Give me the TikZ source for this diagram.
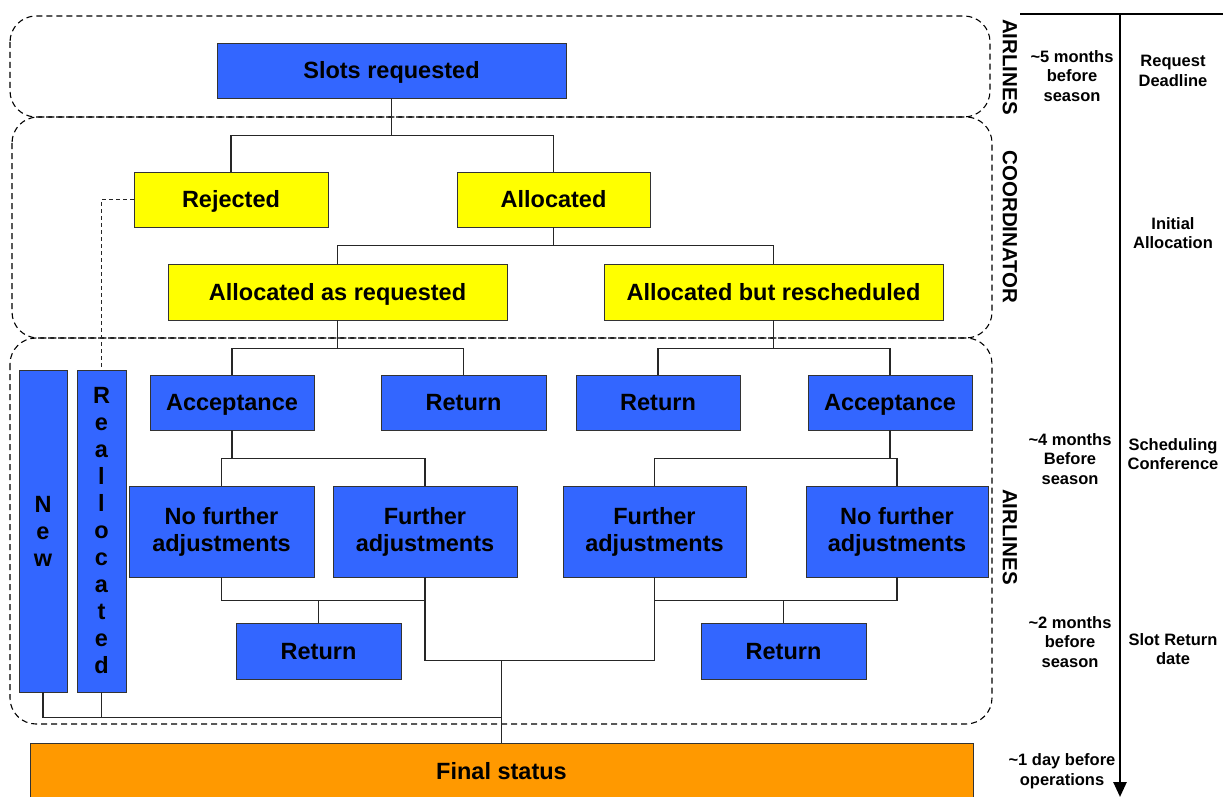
\documentclass[tikz,border=0pt]{standalone}
\usepackage{fontspec}
\setmainfont{Liberation Sans}
\usetikzlibrary{calc,arrows.meta}
\definecolor{bbox}{HTML}{3366FF}
\definecolor{ybox}{HTML}{FFFF00}
\definecolor{obox}{HTML}{FF9900}
\definecolor{edge}{HTML}{333333}
\begin{document}
\begin{tikzpicture}[x=1pt,y=-1pt,
  box/.style={draw=edge,line width=0.9pt,inner sep=0pt,align=center,font=\fontsize{23.5}{27}\selectfont\bfseries},
  bluebox/.style={box,fill=bbox},
  yelbox/.style={box,fill=ybox},
  oneline/.style={text height=17pt,text depth=0.5pt},
  region/.style={draw=black,line width=1.1pt,dash pattern=on 6pt off 4pt,rounded corners=26pt},
  conn/.style={draw=black!85,line width=1.3pt},
  tl/.style={align=center,font=\fontsize{16.5}{19.5}\selectfont\bfseries},
  side/.style={rotate=-90,font=\fontsize{20.5}{22}\selectfont\bfseries}]
\useasboundingbox (0,0) rectangle (1223,797);
% regions
\draw[region] (10,16) rectangle (990,117);
\draw[region] (12,117) rectangle (992,338);
\draw[region] (10,338) rectangle (992,724);
% nodes
\node[bluebox,oneline,minimum width=349pt,minimum height=55pt] (slots) at (391.5,70.5) {Slots requested};
\node[yelbox,oneline,minimum width=194pt,minimum height=55pt] (rej) at (231,199.5) {Rejected};
\node[yelbox,oneline,minimum width=193pt,minimum height=55pt] (alloc) at (553.5,199.5) {Allocated};
\node[yelbox,oneline,minimum width=339pt,minimum height=56pt] (aar) at (337.5,292) {Allocated as requested};
\node[yelbox,oneline,minimum width=339pt,minimum height=56pt] (abr) at (773.5,292) {Allocated but rescheduled};
\node[bluebox,oneline,minimum width=164pt,minimum height=55pt] (accL) at (232,402.5) {Acceptance};
\node[bluebox,oneline,minimum width=165pt,minimum height=55pt] (retA) at (463.5,402.5) {Return};
\node[bluebox,oneline,minimum width=164pt,minimum height=55pt] (retB) at (658,402.5) {Return};
\node[bluebox,oneline,minimum width=164pt,minimum height=55pt] (accR) at (890,402.5) {Acceptance};
\node[bluebox,minimum width=185pt,minimum height=91pt] (nfaL) at (221.5,531.5) {No further\\adjustments};
\node[bluebox,minimum width=184pt,minimum height=91pt] (faL) at (425,531.5) {Further\\adjustments};
\node[bluebox,minimum width=183pt,minimum height=91pt] (faR) at (654.5,531.5) {Further\\adjustments};
\node[bluebox,minimum width=182pt,minimum height=91pt] (nfaR) at (897,531.5) {No further\\adjustments};
\node[bluebox,oneline,minimum width=165pt,minimum height=56pt] (retC) at (318.5,651) {Return};
\node[bluebox,oneline,minimum width=165pt,minimum height=56pt] (retD) at (783.5,651) {Return};
\node[bluebox,minimum width=48pt,minimum height=322pt] (new) at (43,531) {N\\e\\w};
\node[bluebox,minimum width=49pt,minimum height=322pt] (realloc) at (101.5,531) {R\\e\\a\\l\\l\\o\\c\\a\\t\\e\\d};
\node[box,oneline,fill=obox,minimum width=943pt,minimum height=57pt] (final) at (501.5,771.5) {Final status};
% connectors
\draw[conn] (slots.south) -- ++(0,37) coordinate (j1) -| (rej.north);
\draw[conn] (j1) -| (alloc.north);
\draw[conn] (alloc.south) -- ++(0,18) coordinate (j2) -| (aar.north);
\draw[conn] (j2) -| (abr.north);
\draw[conn] (aar.south) -- ++(0,28) coordinate (j3) -| (accL.north);
\draw[conn] (j3) -| (retA.north);
\draw[conn] (abr.south) -- ++(0,28) coordinate (j4) -| (retB.north);
\draw[conn] (j4) -| (accR.north);
\draw[conn] (accL.south) -- ++(0,28) coordinate (j5) -| (nfaL.north);
\draw[conn] (j5) -| (faL.north);
\draw[conn] (accR.south) -- ++(0,28) coordinate (j6) -| (faR.north);
\draw[conn] (j6) -| (nfaR.north);
\draw[conn] (nfaL.south) -- ++(0,23) coordinate (j7) -| (faL.south);
\draw[conn] (retC.north) -- (retC.north |- j7);
\draw[conn] (nfaR.south) -- ++(0,23) coordinate (j8) -| (faR.south);
\draw[conn] (retD.north) -- (retD.north |- j8);
\draw[conn] (faL.south) -- ++(0,83) coordinate (j9) -| (faR.south);
\draw[conn] (final.north) -- (final.north |- j9);
\draw[conn] (new.south) -- ++(0,25) coordinate (j10) -| (final.north);
\draw[conn] (realloc.south) -- (realloc.south |- j10);
\draw[conn,line width=1pt,dash pattern=on 4pt off 3pt] (rej.west) -| (realloc.north);
% side labels
\node[side] (sA) at (1010,67) {AIRLINES};
\node[side] (sC) at (1010,227) {COORDINATOR};
\node[side] (sB) at (1010,537) {AIRLINES};
% timeline
\coordinate (tT) at (1120,14);
\coordinate (tB) at (1120,797);
\draw[line width=2.6pt] (1020,14) -- (1223,14);
\draw[line width=2.6pt,-{Triangle[width=13pt,length=15pt]}] (tT) -- (tB);
\node[tl] (m5) at (1072,76) {\textasciitilde5 months\\before\\season};
\node[tl] (rd) at (1173,71) {Request\\Deadline};
\node[tl] (ia) at (1173,233) {Initial\\Allocation};
\node[tl] (m4) at (1070,459) {\textasciitilde4 months\\Before\\season};
\node[tl] (sc) at (1173,454) {Scheduling\\Conference};
\node[tl] (m2) at (1070,642) {\textasciitilde2 months\\before\\season};
\node[tl] (sr) at (1173,649) {Slot Return\\date};
\node[tl] (d1) at (1062,771) {\textasciitilde1 day before\\operations};
\end{tikzpicture}
\end{document}
